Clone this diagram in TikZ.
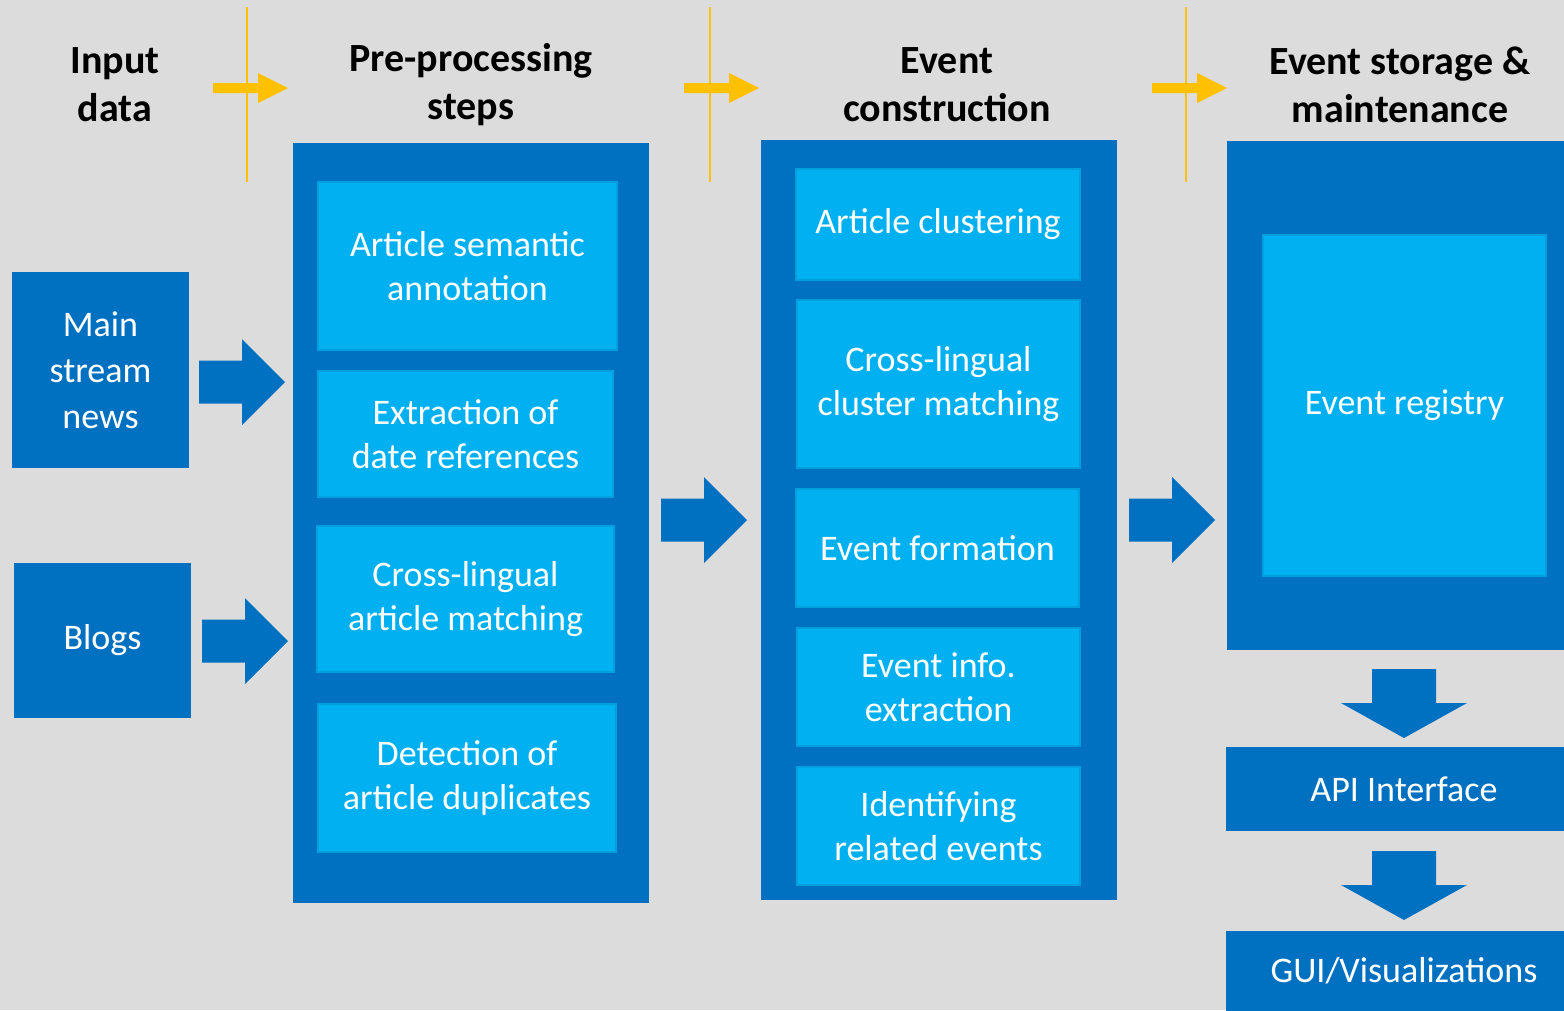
\documentclass[tikz,border=0pt]{standalone}
\usepackage{fontspec}
\setmainfont{Carlito}
\definecolor{bgrey}{HTML}{DCDCDC}
\definecolor{darkblue}{HTML}{0070C0}
\definecolor{lightblue}{HTML}{00B0F0}
\definecolor{lightedge}{HTML}{00A0DC}
\definecolor{amber}{HTML}{FFC000}
\tikzset{
  stage/.style={fill=darkblue, inner sep=0pt, text=white, align=center,
    font=\fontsize{36}{46}\selectfont},
  task/.style={fill=lightblue, draw=lightedge, line width=2pt, inner sep=0pt,
    text=white, align=center, font=\fontsize{36}{44}\selectfont},
  header/.style={align=center, font=\bfseries\fontsize{40}{48}\selectfont},
  sepline/.style={amber, line width=1.2pt},
}
\begin{document}
\begin{tikzpicture}[x=1pt,y=-1pt]
\clip (0,0) rectangle (1564,1010);
\fill[bgrey] (0,0) rectangle (1564,1010);
% column headers
\node[header] (hin) at (115,85) {Input\\data};
\node[header] (hpre) at (471,85) {Pre-processing\\steps};
\node[header] (hevt) at (947,85) {Event\\construction};
\node[header] (hsto) at (1400,85) {Event storage \&\\maintenance};
\foreach \x in {247,710,1186} % separators
  \draw[sepline] (\x,7) -- (\x,182);
\foreach \x in {213,684,1152} % yellow arrows
  \fill[amber, shift={(\x,88)}] (0,-5) -- (45,-5) -- (45,-15) -- (75,0) -- (45,15) -- (45,5) -- (0,5) -- cycle;
% input data
\node[stage, minimum width=177pt, minimum height=196pt] (news) at (100.5,370) {Main\\stream\\news};
\node[stage, minimum width=177pt, minimum height=155pt] (blogs) at (102.5,640.5) {Blogs};
% pre-processing
\node[stage, minimum width=356pt, minimum height=760pt] (pre) at (471,523) {};
\node[task, minimum width=299pt, minimum height=168pt] (annot) at (467.5,266) {Article semantic\\annotation};
\node[task, minimum width=295pt, minimum height=126pt] (dates) at (465.5,434) {Extraction of\\date references};
\node[task, minimum width=297pt, minimum height=146pt] (artmatch) at (465.5,599) {Cross-lingual\\article matching};
\node[task, minimum width=298pt, minimum height=148pt] (dupl) at (467,778) {Detection of\\article duplicates};
% event construction
\node[stage, minimum width=356pt, minimum height=760pt] (evt) at (939,520) {};
\node[task, minimum width=284pt, minimum height=111pt] (clust) at (938,224.5) {Article clustering};
\node[task, minimum width=283pt, minimum height=168pt] (clmatch) at (938.5,384) {Cross-lingual\\cluster matching};
\node[task, minimum width=283pt, minimum height=118pt] (form) at (937.5,548) {Event formation};
\node[task, minimum width=283pt, minimum height=118pt] (info) at (938.5,687) {Event info.\\extraction};
\node[task, minimum width=283pt, minimum height=118pt] (related) at (938.5,826) {Identifying\\related events};
% storage
\node[stage, minimum width=355pt, minimum height=509pt] (store) at (1404.5,395.5) {};
\node[task, minimum width=283pt, minimum height=341pt] (registry) at (1404.5,405.5) {Event registry};
\node[stage, minimum width=356pt, minimum height=84pt] (api) at (1404,789) {API Interface};
\node[stage, minimum width=356pt, minimum height=81pt] (gui) at (1404,971) {GUI/Visualizations};
% block arrows
\foreach \x/\y in {199/382, 202/641, 661/520, 1129/520}
  \fill[darkblue, shift={(\x,\y)}] (0,-21.5) -- (43,-21.5) -- (43,-43) -- (86,0) -- (43,43) -- (43,21.5) -- (0,21.5) -- cycle;
\foreach \y in {669,851}
  \fill[darkblue, shift={(1404,\y)}] (-32,0) -- (-32,34) -- (-63,34) -- (0,69) -- (63,34) -- (32,34) -- (32,0) -- cycle;
\end{tikzpicture}
\end{document}
